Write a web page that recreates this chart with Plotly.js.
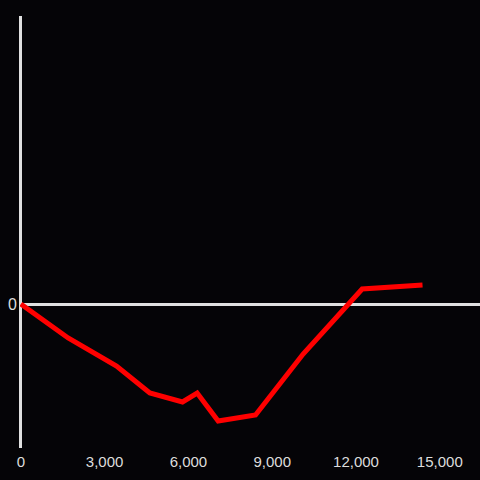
<!DOCTYPE html>
<html><head><meta charset="utf-8">
<script src="https://cdn.plot.ly/plotly-3.0.1.min.js"></script>
<style>html,body{margin:0;padding:0;background:#050407;}</style>
</head><body>
<div id="chart" style="width:480px;height:480px;"></div>
<script>
const xValues = [0, 1694, 3426, 4619, 5789, 6313, 7065, 8403, 10107, 12220, 14382];
const yValues = [0, -34, -62, -89, -98, -89, -117, -111, -50, 15, 19];
const xTickVals = [0, 3000, 6000, 9000, 12000, 15000];
const yTickVals = [0];

Plotly.newPlot('chart', [{
  x: xValues, y: yValues, type: 'scatter', mode: 'lines',
  line: {color: '#ff0000', width: 5}, hoverinfo: 'skip'
}], {
  width: 480, height: 480,
  paper_bgcolor: '#050407', plot_bgcolor: '#050407',
  margin: {l: 20, r: 0, t: 16, b: 32},
  showlegend: false,
  font: {family: 'Liberation Sans, Arial, sans-serif', size: 15, color: '#dddddd'},
  xaxis: {range: [-30, 16440], tickvals: xTickVals, tickformat: ',d', showgrid: false,
    zeroline: true, zerolinecolor: '#e0e0e0', zerolinewidth: 3, showline: false, ticks: '',
    ticklabelstandoff: 3, tickfont: {color: '#dddddd', size: 15}},
  yaxis: {range: [-144, 288], tickvals: yTickVals, showgrid: false,
    zeroline: true, zerolinecolor: '#e0e0e0', zerolinewidth: 3, showline: false, ticks: '',
    ticklabelstandoff: 2, tickfont: {color: '#dddddd', size: 16}}
}, {staticPlot: true});
</script>
</body></html>
